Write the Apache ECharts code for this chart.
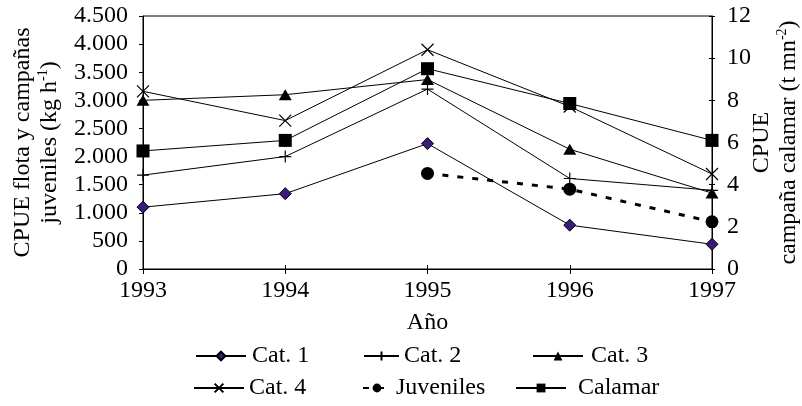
<!DOCTYPE html>
<html>
<head>
<meta charset="utf-8">
<script src="https://cdn.jsdelivr.net/npm/echarts@6/dist/echarts.min.js"></script>
<style>
  html, body { margin: 0; padding: 0; background: #fff; }
  #chart { width: 802px; height: 406px; }
</style>
</head>
<body>
<div id="chart"></div>
<script>
// Years on the horizontal axis
var years = ['1993', '1994', '1995', '1996', '1997'];

// CPUE of the fleet categories and the juvenile surveys (kg h-1, left axis)
var cat1 = [1100, 1340, 2230, 780, 440];
var cat2 = [1670, 2000, 3200, 1610, 1400];
var cat3 = [3000, 3100, 3370, 2130, 1350];
var cat4 = [3160, 2640, 3900, 2890, 1690];
var juveniles = [null, null, 1700, 1420, 840];

// CPUE of the squid survey (t mn-2, right axis)
var calamar = [5.6, 6.1, 9.5, 7.85, 6.1];

// Tick labels of the left axis (Spanish thousands separator)
var leftTicks = ['0', '500', '1.000', '1.500', '2.000', '2.500', '3.000', '3.500', '4.000', '4.500'];
var rightTicks = ['0', '2', '4', '6', '8', '10', '12'];

var FONT = 'Liberation Serif';
var INK = '#000';
var PURPLE = '#3a1a7a';

var plusPath = 'path://M6,0V12M0,6H12';
var crossPath = 'path://M0,0L12,12M12,0L0,12';

var chart = echarts.init(document.getElementById('chart'), null, { renderer: 'canvas' });

function legendAt(name, left, top, width, textPad) {
  return {
    data: [name],
    left: left,
    top: top,
    padding: 0,
    itemWidth: width,
    itemHeight: 11,
    selectedMode: false,
    textStyle: { fontFamily: FONT, fontSize: 24, color: INK, padding: [0, 0, 0, textPad || 0] }
  };
}

var nameRich = {
  n: { fontFamily: FONT, fontSize: 24, color: INK, lineHeight: 27 },
  s: { fontFamily: FONT, fontSize: 14, color: INK, lineHeight: 14, verticalAlign: 'top' }
};

var option = {
  backgroundColor: '#fff',
  animation: false,
  grid: {
    left: 143, right: 90, top: 16, bottom: 137,
    outerBoundsMode: 'none',
    containLabel: false,
    show: true, borderColor: INK, borderWidth: 1, backgroundColor: 'transparent'
  },
  legend: [
    legendAt('Cat. 1', 195, 344, 50, 1),
    legendAt('Cat. 2', 363, 344, 35, 0),
    legendAt('Cat. 3', 532, 344, 50, 3),
    legendAt('Cat. 4', 193, 376, 50, 0),
    legendAt('Juveniles', 362, 376, 28, 0),
    legendAt('Calamar', 515, 376, 50, 7)
  ],
  xAxis: [
    {
      type: 'category',
      data: years,
      boundaryGap: false,
      name: 'Año',
      nameLocation: 'middle',
      nameGap: 42,
      nameMoveOverlap: false,
      nameTextStyle: { fontFamily: FONT, fontSize: 24, color: INK },
      axisLine: { lineStyle: { color: INK, width: 1 } },
      axisTick: { show: true, inside: false, length: 5, lineStyle: { color: INK } },
      axisLabel: { fontFamily: FONT, fontSize: 24, color: INK, margin: 10 },
      splitLine: { show: false }
    },
    {
      // inner half of the crossing ticks
      type: 'category',
      data: years,
      boundaryGap: false,
      position: 'bottom',
      axisLine: { show: false },
      axisTick: { show: true, inside: true, length: 4, lineStyle: { color: INK } },
      axisLabel: { show: false },
      splitLine: { show: false }
    }
  ],
  yAxis: [
    {
      type: 'value',
      min: 0, max: 4500, interval: 500,
      position: 'left',
      name: '{n|CPUE flota y campañas}\n{n|juveniles (kg h}{s|-1}{n|)}',
      nameLocation: 'middle',
      nameGap: 80,
      nameRotate: 90,
      nameMoveOverlap: false,
      nameTextStyle: { fontFamily: FONT, fontSize: 24, color: INK, align: 'center', rich: nameRich },
      axisLine: { show: true, lineStyle: { color: INK, width: 1 } },
      axisTick: { show: true, inside: false, length: 4, lineStyle: { color: INK } },
      axisLabel: {
        fontFamily: FONT, fontSize: 24, color: INK, margin: 15,
        formatter: function (v) { return leftTicks[Math.round(v / 500)]; }
      },
      splitLine: { show: false }
    },
    {
      type: 'value',
      min: 0, max: 12, interval: 2,
      position: 'right',
      name: '{n|CPUE}\n{n|campaña calamar (t mn}{s|-2}{n|)}',
      nameLocation: 'middle',
      nameGap: 36,
      nameRotate: 90,
      nameMoveOverlap: false,
      nameTextStyle: { fontFamily: FONT, fontSize: 24, color: INK, align: 'center', rich: nameRich },
      axisLine: { show: true, lineStyle: { color: INK, width: 1 } },
      axisTick: { show: true, inside: false, length: 3, lineStyle: { color: INK } },
      axisLabel: {
        fontFamily: FONT, fontSize: 24, color: INK, margin: 15,
        formatter: function (v) { return rightTicks[Math.round(v / 2)]; }
      },
      splitLine: { show: false }
    },
    {
      // inner half of the crossing ticks on the right axis
      type: 'value',
      min: 0, max: 12, interval: 2,
      position: 'right',
      axisLine: { show: false },
      axisTick: { show: true, inside: true, length: 3, lineStyle: { color: INK } },
      axisLabel: { show: false },
      splitLine: { show: false }
    }
  ],
  series: [
    {
      name: 'Cat. 1', type: 'line', data: cat1, color: INK,
      symbol: 'diamond', symbolSize: 12,
      lineStyle: { color: INK, width: 1 },
      itemStyle: { color: PURPLE, borderColor: INK, borderWidth: 1 },
      z: 6
    },
    {
      name: 'Cat. 2', type: 'line', data: cat2, color: INK,
      symbol: plusPath, symbolSize: 12,
      lineStyle: { color: INK, width: 1 },
      itemStyle: { color: 'transparent', borderColor: INK, borderWidth: 1.2 },
      z: 3
    },
    {
      name: 'Cat. 3', type: 'line', data: cat3, color: INK,
      symbol: 'triangle', symbolSize: [13, 11],
      lineStyle: { color: INK, width: 1 },
      itemStyle: { color: INK, borderColor: INK, borderWidth: 0 },
      z: 4
    },
    {
      name: 'Cat. 4', type: 'line', data: cat4, color: INK,
      symbol: crossPath, symbolSize: 12,
      lineStyle: { color: INK, width: 1 },
      itemStyle: { color: 'transparent', borderColor: INK, borderWidth: 1.2 },
      z: 2
    },
    {
      name: 'Juveniles', type: 'line', data: juveniles, color: INK,
      symbol: 'circle', symbolSize: 13,
      lineStyle: { color: INK, width: 3, type: [6, 9] },
      itemStyle: { color: INK, borderWidth: 0 },
      z: 5
    },
    {
      name: 'Calamar', type: 'line', data: calamar, yAxisIndex: 1, color: INK,
      symbol: 'rect', symbolSize: 13,
      lineStyle: { color: INK, width: 1 },
      itemStyle: { color: INK, borderWidth: 0 },
      z: 5
    }
  ]
};

chart.setOption(option);
</script>
</body>
</html>
